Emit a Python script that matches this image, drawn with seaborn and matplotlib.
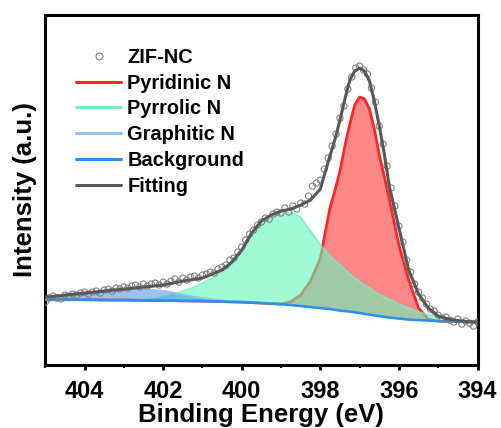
import numpy as np
import pandas as pd
import matplotlib
matplotlib.use('Agg')
import matplotlib.pyplot as plt
from matplotlib.lines import Line2D
from matplotlib.ticker import MultipleLocator
import seaborn as sns

# measured points (ZIF-NC), 0.1 eV step
scan_ev = [405.0, 404.9, 404.8, 404.7, 404.6, 404.5, 404.4, 404.3, 404.2, 404.1,
           404.0, 403.9, 403.8, 403.7, 403.6, 403.5, 403.4, 403.3, 403.2, 403.1,
           403.0, 402.9, 402.8, 402.7, 402.6, 402.5, 402.4, 402.3, 402.2, 402.1,
           402.0, 401.9, 401.8, 401.7, 401.6, 401.5, 401.4, 401.3, 401.2, 401.1,
           401.0, 400.9, 400.8, 400.7, 400.6, 400.5, 400.4, 400.3, 400.2, 400.1,
           400.0, 399.9, 399.8, 399.7, 399.6, 399.5, 399.4, 399.3, 399.2, 399.1,
           399.0, 398.9, 398.8, 398.7, 398.6, 398.5, 398.4, 398.3, 398.2, 398.1,
           398.0, 397.9, 397.8, 397.7, 397.6, 397.5, 397.4, 397.3, 397.2, 397.1,
           397.0, 396.9, 396.8, 396.7, 396.6, 396.5, 396.4, 396.3, 396.2, 396.1,
           396.0, 395.9, 395.8, 395.7, 395.6, 395.5, 395.4, 395.3, 395.2, 395.1,
           395.0, 394.9, 394.8, 394.7, 394.6, 394.5, 394.4, 394.3, 394.2, 394.1,
           394.0]
scan_counts = [62, 66, 68, 66, 65, 69, 68, 70, 69, 71,
               72, 70, 72, 73, 71, 74, 75, 73, 76, 75,
               77, 76, 78, 79, 77, 80, 78, 80, 81, 79,
               82, 80, 83, 85, 82, 86, 84, 87, 88, 86,
               89, 90, 92, 91, 95, 97, 99, 104, 106, 112,
               117, 124, 130, 134, 139, 142, 146, 145, 150, 152,
               151, 156, 152, 158, 155, 161, 160, 168, 178, 181,
               184, 195, 206, 218, 230, 246, 258, 275, 287, 296,
               298, 294, 290, 276, 262, 238, 220, 198, 176, 158,
               138, 122, 104, 92, 80, 72, 66, 60, 55, 53,
               49, 46, 47, 44, 42, 45, 40, 43, 41, 38,
               42]

# fitted components, shared energy grid
comp_ev = [405.0, 404.75, 404.5, 404.25, 404.0, 403.75, 403.5, 403.25, 403.0, 402.75,
           402.5, 402.25, 402.0, 401.75, 401.5, 401.25, 401.0, 400.75, 400.5, 400.25,
           400.0, 399.75, 399.5, 399.25, 399.0, 398.75, 398.5, 398.25, 398.0, 397.75,
           397.625, 397.5, 397.375, 397.25, 397.125, 397.0, 396.875, 396.75, 396.625, 396.5,
           396.375, 396.25, 396.0, 395.75, 395.5, 395.25, 395.0, 394.75, 394.5, 394.25,
           394.0]
background = [64.5, 64.5, 64.4, 64.4, 64.3, 64.2, 64.1, 64.0, 64.0, 63.9,
              63.7, 63.6, 63.5, 63.4, 63.2, 63.1, 63.0, 62.7, 62.5, 62.2,
              62.0, 61.5, 61.0, 60.5, 60.0, 59.0, 58.0, 57.0, 56.0, 55.0,
              54.2, 53.5, 53.0, 52.5, 51.8, 51.0, 50.2, 49.5, 48.7, 48.0,
              47.2, 46.5, 45.5, 44.5, 44.0, 43.5, 43.0, 42.7, 42.5, 42.2,
              42.0]
pyridinic = [64.5, 64.5, 64.4, 64.4, 64.3, 64.2, 64.1, 64.0, 64.0, 63.9,
             63.7, 63.6, 63.5, 63.4, 63.2, 63.1, 63.0, 62.7, 62.5, 62.2,
             62.0, 61.5, 61.0, 60.5, 60.0, 62.5, 69.0, 83.0, 106.0, 157.0,
             174.0, 193.0, 218.0, 240.0, 259.0, 267.0, 265.0, 255.0, 235.0, 209.0,
             188.0, 166.0, 119.0, 84.0, 56.0, 45.0, 43.0, 42.7, 42.5, 42.2,
             42.0]
pyrrolic = [64.5, 64.5, 64.4, 64.4, 64.3, 64.2, 64.1, 64.0, 64.0, 63.9,
            64.2, 65.0, 67.0, 69.5, 73.0, 76.5, 81.0, 86.0, 91.0, 99.0,
            111.0, 128.0, 139.0, 146.0, 150.0, 152.0, 147.0, 133.0, 119.0, 108.0,
            103.5, 99.0, 94.5, 90.0, 86.0, 82.5, 79.0, 76.0, 72.5, 69.5,
            67.0, 65.0, 60.0, 56.0, 52.0, 49.5, 47.0, 45.5, 44.0, 43.0,
            42.5]
graphitic = [66.0, 66.5, 67.2, 68.2, 69.2, 70.3, 71.3, 72.3, 73.0, 74.0,
             74.5, 74.0, 73.0, 71.5, 69.5, 67.5, 66.0, 64.8, 63.8, 63.0,
             62.4, 61.7, 61.0, 60.5, 60.0, 59.0, 58.0, 57.0, 56.0, 55.0,
             54.2, 53.5, 53.0, 52.5, 51.8, 51.0, 50.2, 49.5, 48.7, 48.0,
             47.2, 46.5, 45.5, 44.5, 44.0, 43.5, 43.0, 42.7, 42.5, 42.2,
             42.0]
fitting = [67, 68, 69, 70, 71, 72, 73, 74, 75, 76,
           77, 78, 79, 81, 83, 84.5, 86, 90, 94, 102,
           114, 131, 143, 149, 153, 155, 159, 164, 175, 209,
           225, 244, 265, 284, 293, 296, 293, 283, 263, 238,
           211, 179, 136, 94, 70, 56, 48, 45, 43.5, 42.5,
           42]

sns.set_theme(style='white')
plt.rcParams['font.family'] = ['Liberation Sans', 'DejaVu Sans']
plt.rcParams['font.weight'] = 'bold'
plt.rcParams['axes.labelweight'] = 'bold'
plt.rcParams['text.color'] = 'black'
plt.rcParams['axes.labelcolor'] = 'black'
plt.rcParams['xtick.color'] = 'black'

df = pd.DataFrame({'ev': comp_ev, 'bg': background, 'pyd': pyridinic,
                   'pyr': pyrrolic, 'gra': graphitic, 'fit': fitting})
scan = pd.DataFrame({'ev': scan_ev, 'counts': scan_counts})

fig = plt.figure(figsize=(5.02, 4.28), dpi=100)
ax = fig.add_axes([0.0902, 0.147, 0.861, 0.819])

c_red = '#ff2626'
c_green = '#74ecc4'
c_light = '#8cc2f6'
c_bg = '#2b8ef2'
c_fit = '#585858'

# Pyridinic N
ax.fill_between(df['ev'], df['bg'], df['pyd'], color='#ff0000', alpha=0.47, lw=0, zorder=1)
sns.lineplot(data=df, x='ev', y='pyd', color=c_red, lw=2.0, sort=False, ax=ax, zorder=2)
# Pyrrolic N (drawn over the red one)
ax.fill_between(df['ev'], df['bg'], df['pyr'], color='#61f7bc', alpha=0.6, lw=0, zorder=3)
sns.lineplot(data=df, x='ev', y='pyr', color=c_green, lw=1.3, alpha=0.8, sort=False, ax=ax, zorder=3.5)
# Graphitic N
ax.fill_between(df['ev'], df['bg'], df['gra'], color='#4a90e2', alpha=0.55, lw=0, zorder=4)
sns.lineplot(data=df, x='ev', y='gra', color=c_light, lw=1.3, sort=False, ax=ax, zorder=4.5)
# Background
sns.lineplot(data=df, x='ev', y='bg', color=c_bg, lw=1.8, sort=False, ax=ax, zorder=5)
# data points
sns.scatterplot(data=scan, x='ev', y='counts', s=20, marker='o', facecolor='none',
                edgecolor='#808080', linewidth=0.8, ax=ax, zorder=5.5)
# Fitting
sns.lineplot(data=df, x='ev', y='fit', color=c_fit, lw=2.2, sort=False, ax=ax, zorder=6)

ax.set_xlim(405, 394)
ax.set_ylim(-1, 349.5)
ax.xaxis.set_major_locator(MultipleLocator(2))
ax.xaxis.set_minor_locator(MultipleLocator(1))
ax.set_yticks([])
ax.tick_params(axis='x', which='major', direction='out', length=3.5, width=2,
               labelsize=17, pad=7, bottom=True, colors='black')
ax.tick_params(axis='x', which='minor', direction='out', length=2.5, width=1.5, bottom=True)
for lab in ax.get_xticklabels():
    lab.set_fontweight('bold')
for sp in ax.spines.values():
    sp.set_linewidth(2.2)
    sp.set_color('black')

ax.set_xlabel('Binding Energy (eV)', fontsize=18.5, fontweight='bold', labelpad=0)
ax.set_ylabel('Intensity (a.u.)', fontsize=18.5, fontweight='bold', labelpad=6)

handles = [
    Line2D([], [], ls='none', marker='o', markersize=5, markerfacecolor='none',
           markeredgecolor='#808080', markeredgewidth=0.8, label='ZIF-NC'),
    Line2D([], [], color=c_red, lw=2.2, label='Pyridinic N'),
    Line2D([], [], color=c_green, lw=2.2, label='Pyrrolic N'),
    Line2D([], [], color=c_light, lw=2.2, label='Graphitic N'),
    Line2D([], [], color=c_bg, lw=2.2, label='Background'),
    Line2D([], [], color=c_fit, lw=2.2, label='Fitting'),
]
ax.legend(handles=handles, loc='upper left', bbox_to_anchor=(0.072, 0.905),
          frameon=False, handlelength=2.25, handletextpad=0.3,
          labelspacing=0.34, borderpad=0, borderaxespad=0,
          prop={'weight': 'bold', 'size': 14.4})

fig.savefig('out.png', dpi=100)
